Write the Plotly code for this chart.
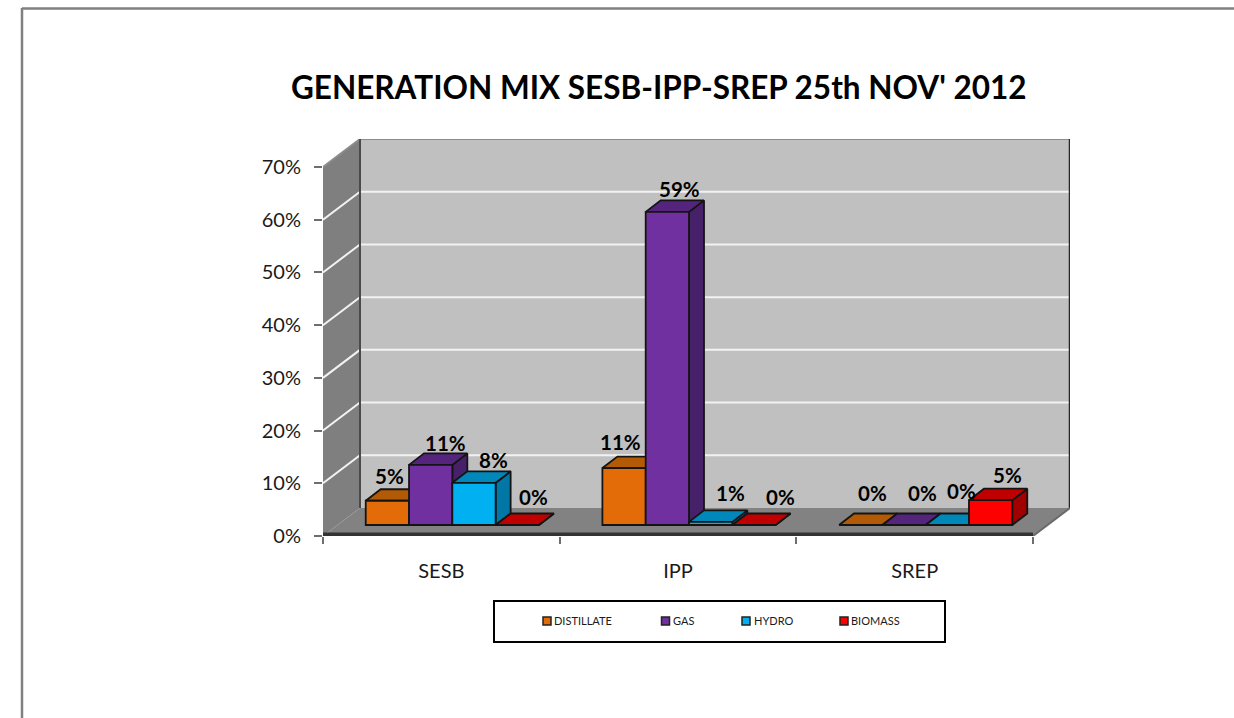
import plotly.graph_objects as go

# ---- data ----
categories = ["SESB", "IPP", "SREP"]
series_names = ["DISTILLATE", "GAS", "HYDRO", "BIOMASS"]
distillate = [4.6, 10.8, 0]
gas = [11.4, 59.4, 0]
hydro = [8.0, 0.6, 0]
biomass = [0, 0, 4.7]
y_ticks = [0, 10, 20, 30, 40, 50, 60, 70]
title_text = "GENERATION MIX SESB-IPP-SREP 25th NOV' 2012"

# ---- style and layout ----
W, H = 1234, 718
FONT = "Lato"
front_colors = ["#E36C09", "#7030A0", "#00B0F0", "#FF0000"]
top_colors = ["#B25A05", "#55247C", "#0088BA", "#C00000"]
side_colors = ["#9C4E05", "#47206A", "#0077A5", "#A00000"]
OUT = "#141414"
PX_X = 236.67            # pixels per category
PX_Y = 5.271             # pixels per percent
DX, DY = 37 / PX_X, 28 / PX_Y            # depth of the box
LIFT_X, LIFT_Y = 11 / PX_X, 11 / PX_Y    # front plane of the bars
BDX, BDY = 15 / PX_X, 11.5 / PX_Y        # depth of a bar
BW = 43.3 / PX_X
X_MAX, Y_MAX = 3 + DX, 70 + DY
# label nudges in pixels, per series then per category
label_dx = [[2, -4, 12], [15, 12, 18], [20, 20, 14], [16, 27, 17]]
label_dy = [[25, 26, 32], [22, 23, 32], [23, 29, 34], [28, 28, 25]]

fig = go.Figure()


def poly(xs, ys, fill, line=None, width=0):
    fig.add_trace(go.Scatter(
        x=xs, y=ys, mode="lines", fill="toself" if fill else "none",
        fillcolor=fill, line=dict(color=line or fill, width=width),
        hoverinfo="skip", showlegend=False, xaxis="x", yaxis="y"))


# walls and floor
poly([DX, X_MAX, X_MAX, DX, DX], [DY, DY, Y_MAX, Y_MAX, DY], "#C0C0C0")
poly([0, DX, DX, 0, 0], [0, DY, Y_MAX, 70, 0], "#7F7F7F")
poly([0, 3, X_MAX, DX, 0], [0, 0, DY, DY, 0], "#828282")
for t in y_ticks[1:-1]:
    poly([0, DX, X_MAX], [t, t + DY, t + DY], None, "#F2F2F2", 2)
poly([0, DX, X_MAX], [70, Y_MAX, Y_MAX], None, "#8C8C8C", 2)
poly([DX, DX], [DY, Y_MAX], None, "#4A4A4A", 2)
poly([X_MAX, X_MAX], [DY, Y_MAX], None, "#262626", 2.5)
poly([3, X_MAX], [0, DY], None, "#6A6A6A", 2)
poly([0, 3], [0.35, 0.35], None, "#333333", 3.5)

all_series = [distillate, gas, hydro, biomass]


def bar_x(s, c):
    return c + 0.5 + LIFT_X + (s - 1.5) * BW


# top and side faces, series by series, from the values
for s, vals in enumerate(all_series):
    sx, sy, tx, ty = [], [], [], []
    for c, v in enumerate(vals):
        left = bar_x(s, c) - BW / 2
        right = left + BW
        top = LIFT_Y + v
        sx += [right, right + BDX, right + BDX, right, right, None]
        sy += [LIFT_Y, LIFT_Y + BDY, top + BDY, top, LIFT_Y, None]
        tx += [left, right, right + BDX, left + BDX, left, None]
        ty += [top, top, top + BDY, top + BDY, top, None]
    poly(sx, sy, side_colors[s], OUT, 1.8)
    poly(tx, ty, top_colors[s], OUT, 1.8)

# front faces on an overlaid pair of axes so they sit above the depth faces
for s, vals in enumerate(all_series):
    fig.add_trace(go.Bar(
        x=[bar_x(s, c) for c in range(len(categories))], y=vals, base=LIFT_Y,
        width=BW, name=series_names[s],
        marker=dict(color=front_colors[s], line=dict(color=OUT, width=1.8)),
        showlegend=False, xaxis="x2", yaxis="y2"))

annotations = [dict(
    text=title_text, xref="paper", yref="paper", x=659 / W, y=1 - 87 / H,
    xanchor="center", yanchor="middle", showarrow=False,
    font=dict(family=FONT, size=31.5, color="#000000", weight="bold"))]
for s, vals in enumerate(all_series):
    for c, v in enumerate(vals):
        annotations.append(dict(
            text=f"{v:.0f}%", xref="x2", yref="y2", x=bar_x(s, c), y=LIFT_Y + v,
            xanchor="center", yanchor="middle", showarrow=False,
            xshift=label_dx[s][c], yshift=label_dy[s][c],
            font=dict(family=FONT, size=20.5, color="#000000", weight="bold")))

# page frame (left and top edges only) and legend box
shapes = [
    dict(type="line", xref="paper", yref="paper", x0=22 / W, x1=22 / W,
         y0=0, y1=1 - 8 / H, line=dict(color="#808080", width=2.5), layer="below"),
    dict(type="line", xref="paper", yref="paper", x0=22 / W, x1=1,
         y0=1 - 8.5 / H, y1=1 - 8.5 / H, line=dict(color="#808080", width=2.5), layer="below"),
    dict(type="rect", xref="paper", yref="paper", x0=494 / W, x1=945 / W,
         y0=1 - 642 / H, y1=1 - 601 / H, line=dict(color="#000000", width=2),
         fillcolor="#FFFFFF"),
]
legend_swatch_px = [547, 665.5, 746, 844]
legend_text_px = [552, 671, 751.5, 849]
for s, name in enumerate(series_names):
    shapes.append(dict(
        type="rect", xref="paper", yref="paper",
        x0=(legend_swatch_px[s] - 4) / W, x1=(legend_swatch_px[s] + 4) / W,
        y0=1 - 625 / H, y1=1 - 617 / H, fillcolor=front_colors[s],
        line=dict(color="#222222", width=1.5)))
    annotations.append(dict(
        text=name, xref="paper", yref="paper", x=legend_text_px[s] / W,
        y=1 - 620.5 / H, xanchor="left", yanchor="middle", showarrow=False,
        font=dict(family=FONT, size=11, color="#1A1A1A")))

x_dom = [323 / W, 1070 / W]
y_dom = [1 - 536 / H, 1 - 139 / H]
fig.update_layout(
    width=W, height=H, margin=dict(l=0, r=0, t=0, b=0, autoexpand=False),
    paper_bgcolor="#FFFFFF", plot_bgcolor="rgba(0,0,0,0)",
    barmode="overlay", showlegend=False,
    font=dict(family=FONT, size=20, color="#1A1A1A"),
    annotations=annotations, shapes=shapes,
    xaxis=dict(domain=x_dom, range=[0, X_MAX], showgrid=False, zeroline=False,
               showline=False, ticks="", tickmode="array",
               tickvals=[c + 0.5 for c in range(len(categories))],
               ticktext=categories, ticklabelstandoff=21,
               minor=dict(tickmode="array", tickvals=[0, 1, 2, 3],
                          ticks="outside", ticklen=7, tickwidth=1.5,
                          tickcolor="#6E6E6E", showgrid=False)),
    yaxis=dict(domain=y_dom, range=[0, Y_MAX], showgrid=False, zeroline=False,
               showline=False, ticks="outside", ticklen=8, tickwidth=1.5,
               tickcolor="#6E6E6E", tickmode="array", tickvals=y_ticks,
               ticktext=[f"{t}%" for t in y_ticks], ticklabelstandoff=9),
    xaxis2=dict(domain=x_dom, range=[0, X_MAX], overlaying="x", visible=False),
    yaxis2=dict(domain=y_dom, range=[0, Y_MAX], overlaying="y", visible=False),
)

fig.write_html("out.html", config=dict(displayModeBar=False),
               post_script="document.body.style.margin='0';document.body.style.overflow='hidden';")
